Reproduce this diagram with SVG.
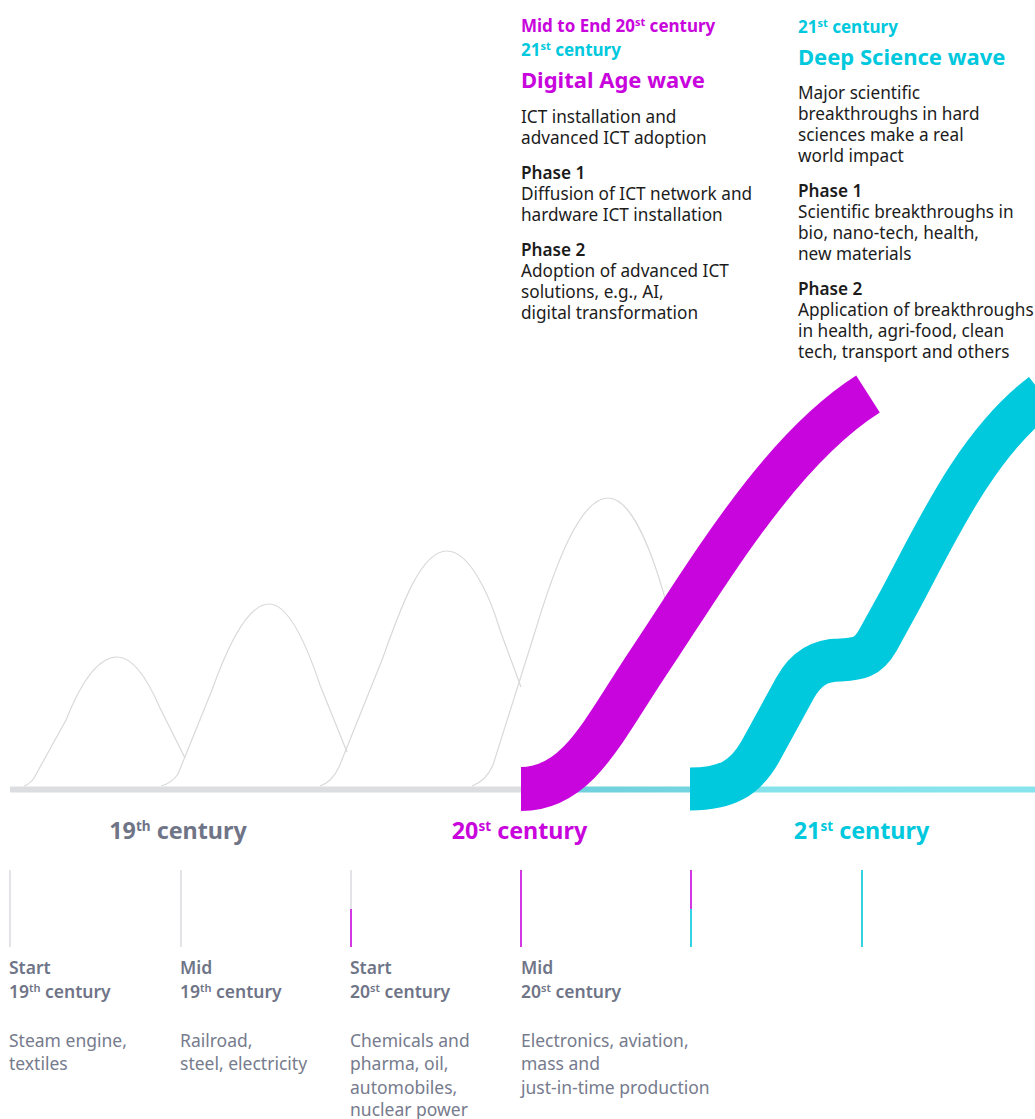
<svg xmlns="http://www.w3.org/2000/svg" width="1035" height="1119" viewBox="0 0 1035 1119">
<defs>
<style>
text{font-family:"Noto Sans","Open Sans","Liberation Sans",sans-serif;}
.body{font-size:17.2px;fill:#1c1c1c;}
.ph{font-size:17.2px;font-weight:600;fill:#1c1c1c;}
.sub{font-size:17px;font-weight:700;}
.hd{font-size:22px;font-weight:700;}
.cent{font-size:23.3px;font-weight:700;}
.lab{font-size:17.5px;font-weight:600;fill:#6f7487;}
.desc{font-size:17.5px;fill:#767b8d;}
.mag{fill:#c805dc;}
.cya{fill:#00c8dd;}
.gry{fill:#6f7487;}
.hill{fill:none;stroke:#d9d9d9;stroke-width:1.2;}
.tick{stroke-width:1.6;}
</style>
<linearGradient id="axisg" x1="0" y1="0" x2="1035" y2="0" gradientUnits="userSpaceOnUse">
<stop offset="0" stop-color="#dcdde1"/>
<stop offset="0.503" stop-color="#dcdde1"/>
<stop offset="0.504" stop-color="#6ecfdb"/>
<stop offset="0.667" stop-color="#74d5e0"/>
<stop offset="0.668" stop-color="#84e2eb"/>
<stop offset="1" stop-color="#88e4ec"/>
</linearGradient>
</defs>

<g id="hills">
<path class="hill" d="M24,786 Q30,784 34,778 L66,720 C78,690 95,657 117,657 C133,657 148,680 160,708 L185,758"/>
<path class="hill" d="M161,786 Q172,783 178,774 L212,690 C228,645 248,604 269,604 C288,604 305,640 320,685 L347,752"/>
<path class="hill" d="M320,786 Q332,782 339,767 L382,660 C400,610 420,551 447,551 C468,551 488,590 500,630 L521,687"/>
<path class="hill" d="M472,786 Q486,781 493,765 L534,635 C555,565 580,498 608,498 C630,498 650,545 665,598 L680,650"/>
</g>

<g id="axis">
<rect x="10" y="786.5" width="1025" height="6" fill="url(#axisg)"/>
</g>

<g id="connectors">
<path id="digital-wave" d="M521,789 C578,789 603,730 650,660 C710,570 780,450 868,394" fill="none" stroke="#c805dc" stroke-width="44"/>
<path id="deep-science-wave" d="M690,789 C727,789 745,778 760,752 L795,688 C805,670 818,660 840,660 C858,659 868,658 878,640 L900,600 C935,535 975,445 1042,394" fill="none" stroke="#00c8dd" stroke-width="43"/>
</g>

<g id="digital-age-text">
<text x="521" y="32" class="sub mag">Mid to End 20<tspan font-size="11" dy="-6">st</tspan><tspan dy="6"> century</tspan></text>
<text x="521" y="56" class="sub cya">21<tspan font-size="11" dy="-6">st</tspan><tspan dy="6"> century</tspan></text>
<text x="521" y="88" class="hd mag">Digital Age wave</text>
<text x="521" y="123" class="body">ICT installation and</text>
<text x="521" y="144" class="body">advanced ICT adoption</text>
<text x="521" y="179" class="ph">Phase 1</text>
<text x="521" y="200" class="body">Diffusion of ICT network and</text>
<text x="521" y="221" class="body">hardware ICT installation</text>
<text x="521" y="256" class="ph">Phase 2</text>
<text x="521" y="277" class="body">Adoption of advanced ICT</text>
<text x="521" y="298" class="body">solutions, e.g., AI,</text>
<text x="521" y="319" class="body">digital transformation</text>
</g>

<g id="deep-science-text">
<text x="798" y="32.5" class="sub cya">21<tspan font-size="11" dy="-6">st</tspan><tspan dy="6"> century</tspan></text>
<text x="798" y="64.5" class="hd cya">Deep Science wave</text>
<text x="798" y="98.5" class="body">Major scientific</text>
<text x="798" y="119.5" class="body">breakthroughs in hard</text>
<text x="798" y="140.5" class="body">sciences make a real</text>
<text x="798" y="161.5" class="body">world impact</text>
<text x="798" y="196.5" class="ph">Phase 1</text>
<text x="798" y="217.5" class="body">Scientific breakthroughs in</text>
<text x="798" y="238.5" class="body">bio, nano-tech, health,</text>
<text x="798" y="259.5" class="body">new materials</text>
<text x="798" y="294.5" class="ph">Phase 2</text>
<text x="798" y="315.5" class="body">Application of breakthroughs</text>
<text x="798" y="336.5" class="body">in health, agri-food, clean</text>
<text x="798" y="357.5" class="body">tech, transport and others</text>
</g>

<g id="century-labels">
<text x="178" y="838.5" class="cent gry" text-anchor="middle">19<tspan font-size="13.5" dy="-8">th</tspan><tspan dy="8"> century</tspan></text>
<text x="519.5" y="838.5" class="cent mag" text-anchor="middle">20<tspan font-size="13.5" dy="-8">st</tspan><tspan dy="8"> century</tspan></text>
<text x="861.5" y="838.5" class="cent cya" text-anchor="middle">21<tspan font-size="13.5" dy="-8">st</tspan><tspan dy="8"> century</tspan></text>
</g>

<g id="ticks">
<line class="tick" x1="10" y1="870" x2="10" y2="947" stroke="#dcdde1"/>
<line class="tick" x1="181" y1="870" x2="181" y2="947" stroke="#dcdde1"/>
<line class="tick" x1="351" y1="870" x2="351" y2="909" stroke="#dcdde1"/>
<line class="tick" x1="351" y1="909" x2="351" y2="947" stroke="#c805dc"/>
<line class="tick" x1="521" y1="870" x2="521" y2="947" stroke="#c805dc"/>
<line class="tick" x1="691" y1="870" x2="691" y2="909" stroke="#c805dc"/>
<line class="tick" x1="691" y1="909" x2="691" y2="947" stroke="#00c8dd"/>
<line class="tick" x1="862" y1="870" x2="862" y2="947" stroke="#00c8dd"/>
</g>

<g id="start-19th">
<text x="9" y="974" class="lab">Start</text>
<text x="9" y="998" class="lab">19<tspan font-size="11" dy="-6">th</tspan><tspan dy="6"> century</tspan></text>
<text x="9" y="1046.5" class="desc">Steam engine,</text>
<text x="9" y="1070" class="desc">textiles</text>
</g>
<g id="mid-19th">
<text x="180" y="974" class="lab">Mid</text>
<text x="180" y="998" class="lab">19<tspan font-size="11" dy="-6">th</tspan><tspan dy="6"> century</tspan></text>
<text x="180" y="1046.5" class="desc">Railroad,</text>
<text x="180" y="1070" class="desc">steel, electricity</text>
</g>
<g id="start-20th">
<text x="350" y="974" class="lab">Start</text>
<text x="350" y="998" class="lab">20<tspan font-size="11" dy="-6">st</tspan><tspan dy="6"> century</tspan></text>
<text x="350" y="1046.5" class="desc">Chemicals and</text>
<text x="350" y="1070" class="desc">pharma, oil,</text>
<text x="350" y="1093.5" class="desc">automobiles,</text>
<text x="350" y="1115.5" class="desc">nuclear power</text>
</g>
<g id="mid-20th">
<text x="521" y="974" class="lab">Mid</text>
<text x="521" y="998" class="lab">20<tspan font-size="11" dy="-6">st</tspan><tspan dy="6"> century</tspan></text>
<text x="521" y="1046.5" class="desc">Electronics, aviation,</text>
<text x="521" y="1070" class="desc">mass and</text>
<text x="521" y="1093.5" class="desc">just-in-time production</text>
</g>
</svg>
